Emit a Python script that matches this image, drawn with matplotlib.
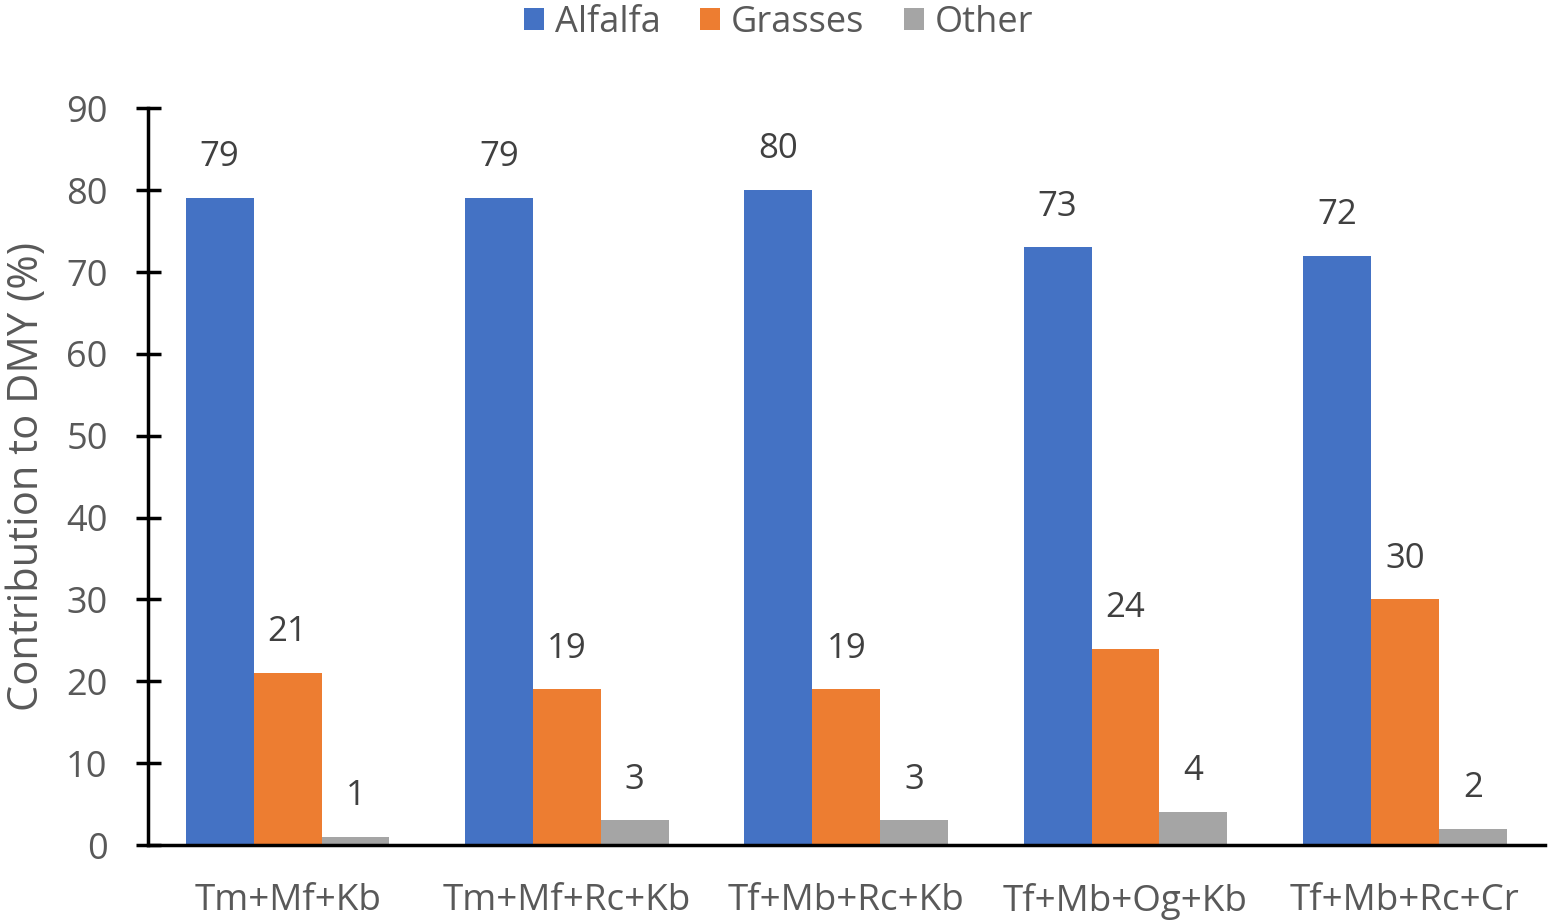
import numpy as np
import matplotlib
matplotlib.use("Agg")
import matplotlib.pyplot as plt

# ── data ───────────────────────────────────────────────────────────────────────
mixtures = ["Tm+Mf+Kb", "Tm+Mf+Rc+Kb", "Tf+Mb+Rc+Kb", "Tf+Mb+Og+Kb", "Tf+Mb+Rc+Cr"]
alfalfa = [79, 79, 80, 73, 72]
grasses = [21, 19, 19, 24, 30]
other = [1, 3, 3, 4, 2]

series = [("Alfalfa", alfalfa, "#4472C4"),
          ("Grasses", grasses, "#ED7D31"),
          ("Other", other, "#A5A5A5")]

TEXT = "#595959"
plt.rcParams["font.family"] = ["Open Sans", "DejaVu Sans"]

fig = plt.figure(figsize=(15.57, 9.22), dpi=100)
ax = fig.add_axes([0.095, 0.0835, 0.897, 0.799])

x = np.arange(len(mixtures))
width = 0.243
for i, (name, vals, col) in enumerate(series):
    pos = x + (i - 1) * width
    ax.bar(pos, vals, width=width, color=col, label=name, zorder=2)
    for px, v in zip(pos, vals):
        ax.text(px, v + 5, f"{v}", ha="center", va="center",
                fontsize=25, color="#404040")

ax.set_xlim(-0.5, len(mixtures) - 0.5)
ax.set_ylim(0, 90)
ax.set_yticks(range(0, 91, 10))
ax.set_xticks(x)
ax.set_xticklabels(mixtures, fontsize=26.5, color=TEXT)
ax.tick_params(axis="y", labelsize=26, labelcolor=TEXT, direction="inout",
               length=18, width=2.5, pad=20)
ax.tick_params(axis="x", length=0, pad=27)
ax.set_ylabel("Contribution to DMY (%)", fontsize=30, color=TEXT)
ax.yaxis.set_label_coords(-0.0715, 0.5)

for side in ("top", "right"):
    ax.spines[side].set_visible(False)
for side in ("left", "bottom"):
    ax.spines[side].set_linewidth(2.5)
    ax.spines[side].set_color("black")

fig.legend(loc="upper center", bbox_to_anchor=(0.5, 1.03), ncol=3,
           frameon=False, fontsize=26, handlelength=0.55, handleheight=0.55,
           handletextpad=0.3, columnspacing=1.1, labelcolor=TEXT)

fig.savefig("out.png", dpi=100)
